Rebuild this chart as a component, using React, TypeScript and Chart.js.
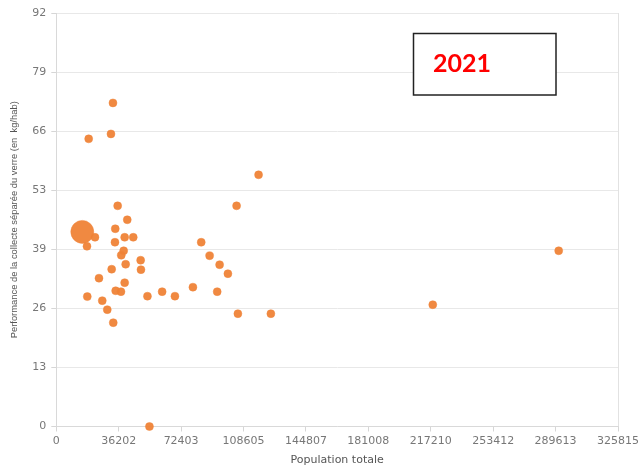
import React, { useEffect, useRef } from "react";
import { Chart, registerables } from "chart.js";

Chart.register(...registerables);

// Population totale (x) and performance de collecte du verre en kg/hab (y)
const population = [
  15072, 18782, 32869, 31710, 35594, 41159, 34202, 22434, 17797, 34029,
  39652, 44637, 39072, 37681, 40232, 48927, 49101, 32116, 24754, 39652,
  34434, 37507, 17971, 26666, 52869, 61391, 68811, 29565, 33043, 117331,
  104578, 84057, 88926, 94723, 99534, 79245, 93331, 105331, 124462, 218373,
  291415, 54028,
];
const performance = [
  43.3, 64.0, 72.0, 65.1, 49.1, 46.0, 44.0, 42.1, 40.1, 41.0,
  42.1, 42.1, 39.1, 38.1, 36.1, 37.0, 34.9, 35.0, 33.0, 32.0,
  30.2, 30.0, 28.9, 28.0, 29.0, 30.0, 29.0, 26.0, 23.1, 56.0,
  49.1, 41.0, 38.0, 36.0, 34.0, 31.0, 30.0, 25.1, 25.1, 27.1,
  39.1, 0,
];
// bubble radius (one large bubble, the rest small)
const bubbleR = [
  11.5, 4, 4, 4, 4, 4, 4, 4, 4, 4,
  4, 4, 4, 4, 4, 4, 4, 4, 4, 4,
  4, 4, 4, 4, 4, 4, 4, 4, 4, 4,
  4, 4, 4, 4, 4, 4, 4, 4, 4, 4,
  4, 4,
];

const xTickLabels = ["0", "36202", "72403", "108605", "144807", "181008", "217210", "253412", "289613", "325815"];
const yTickLabels = ["0", "13", "26", "39", "53", "66", "79", "92"];
const xMax = 325815;
const yMax = 92;
const yearLabel = "2021";
const xTitle = "Population totale";
const yTitle = "Performance de la collecte séparée du verre (en  kg/hab)";

const annotationPlugin = {
  id: "yearBox",
  afterDraw(chart: any) {
    const ctx = chart.ctx;
    ctx.save();
    ctx.fillStyle = "#ffffff";
    ctx.fillRect(413, 33, 143, 62);
    ctx.strokeStyle = "#222222";
    ctx.lineWidth = 1.5;
    ctx.strokeRect(413.5, 33.5, 142.5, 61.5);
    ctx.fillStyle = "#ff0000";
    ctx.font = "bold 25px Lato, 'Liberation Sans', sans-serif";
    ctx.textBaseline = "alphabetic";
    ctx.textAlign = "left";
    ctx.fillText(yearLabel, 433, 71.5);
    ctx.restore();
  },
};

export default function App() {
  const canvasRef = useRef<HTMLCanvasElement | null>(null);

  useEffect(() => {
    const canvas = canvasRef.current;
    if (!canvas) return;
    const data = population.map((x, i) => ({ x, y: performance[i], r: bubbleR[i] }));
    const tickFont = { family: "'DejaVu Sans', Verdana, sans-serif", size: 11 };
    const chart = new Chart(canvas, {
      type: "bubble",
      data: {
        datasets: [
          {
            data,
            backgroundColor: "rgba(239,131,55,0.95)",
            borderColor: "rgba(239,131,55,0.45)",
            borderWidth: 1,
            clip: false,
          } as any,
        ],
      },
      options: {
        responsive: false,
        animation: false,
        devicePixelRatio: 1,
        layout: { padding: { top: 13, right: 20, left: 0, bottom: 0 } },
        plugins: {
          legend: { display: false },
          tooltip: { enabled: false },
        },
        scales: {
          x: {
            type: "linear",
            min: 0,
            max: xMax,
            afterBuildTicks: (scale: any) => {
              scale.ticks = xTickLabels.map((_, i) => ({ value: (i * xMax) / (xTickLabels.length - 1) }));
            },
            afterFit: (scale: any) => {
              scale.height = 41.5;
              scale.paddingLeft = 0;
              scale.paddingRight = 0;
            },
            ticks: {
              autoSkip: false,
              maxRotation: 0,
              padding: 3,
              color: "#777",
              font: tickFont,
              callback: (_v: any, i: number) => xTickLabels[i],
            },
            grid: {
              color: (c: any) => (c.index === xTickLabels.length - 1 ? "#e2e2e2" : "rgba(0,0,0,0)"),
              tickColor: "#d6d6d6",
              tickLength: 5,
            },
            border: { color: "#d9d9d9", width: 1 },
            title: {
              display: true,
              text: xTitle,
              color: "#555",
              font: { family: "'DejaVu Sans', Verdana, sans-serif", size: 11 },
              padding: { top: 0, bottom: 1.5 },
            },
          },
          y: {
            type: "linear",
            min: 0,
            max: yMax,
            afterBuildTicks: (scale: any) => {
              scale.ticks = yTickLabels.map((_, i) => ({ value: (i * yMax) / (yTickLabels.length - 1) }));
            },
            afterFit: (scale: any) => {
              scale.width = 56.3;
              scale.paddingTop = 0;
              scale.paddingBottom = 0;
            },
            ticks: {
              autoSkip: false,
              padding: 5,
              color: "#777",
              font: tickFont,
              callback: (_v: any, i: number) => yTickLabels[i],
            },
            grid: {
              color: "#e8e8e8",
              tickColor: "#d6d6d6",
              tickLength: 5,
            },
            border: { color: "#d9d9d9", width: 1 },
            title: {
              display: true,
              text: yTitle,
              color: "#555",
              font: { family: "'Liberation Sans', Arial, sans-serif", size: 9.4 },
              padding: { top: 9, bottom: 0 },
            },
          },
        },
      },
      plugins: [annotationPlugin],
    } as any);
    return () => chart.destroy();
  }, []);

  return (
    <div style={{ position: "absolute", left: 0, top: 0, width: 638, height: 468, background: "#fff" }}>
      <canvas ref={canvasRef} width={638} height={468} style={{ width: 638, height: 468, display: "block" }} />
    </div>
  );
}
